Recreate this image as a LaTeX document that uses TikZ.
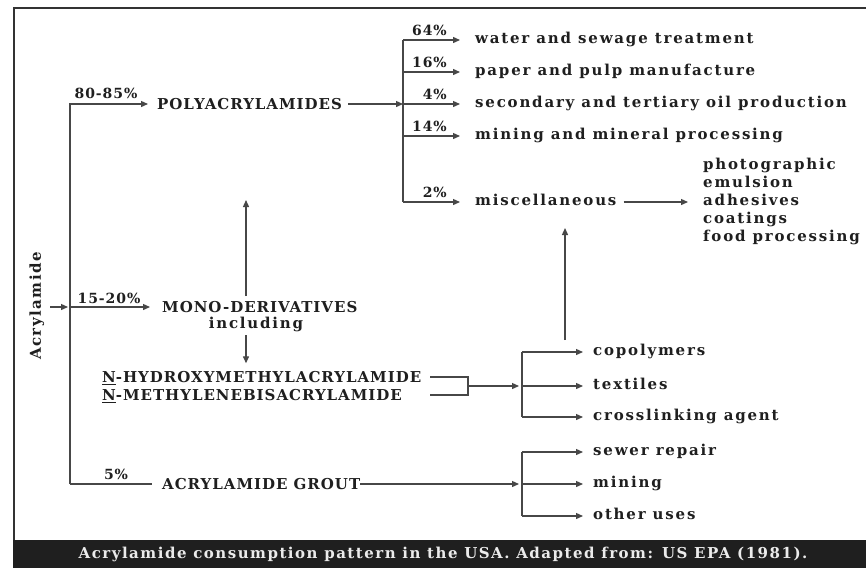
\documentclass[tikz,border=0pt]{standalone}
\usepackage{fontspec}
\newfontfamily\dserL{DejaVu Serif}[LetterSpace=12]
\newfontfamily\dserU{DejaVu Serif}[LetterSpace=6.5]
\newfontfamily\dserC{DejaVu Serif}[LetterSpace=10]
\usetikzlibrary{arrows.meta}
\begin{document}
\begin{tikzpicture}[x=1pt,y=-1pt,
  ln/.style={draw=black!72,line width=1.3pt},
  arr/.style={ln,-{Triangle[length=7pt,width=6pt]}},
  lc/.style={font=\dserL\bfseries\fontsize{15}{18}\selectfont,inner sep=0pt,anchor=west,text height=7.8pt,text depth=0pt,text=black!88},
  uc/.style={font=\dserU\bfseries\fontsize{15}{18}\selectfont,inner sep=0pt,anchor=west,text height=11pt,text depth=0pt,text=black!88},
  pct/.style={font=\dserU\bfseries\fontsize{14}{18}\selectfont,inner sep=0pt,text=black!88}]
\useasboundingbox (0,0) rectangle (866,568);
\fill[white] (0,0) rectangle (866,568);
% frame and caption bar
\draw[black!80,line width=2.5pt] (14,541) -- (14,8) -- (866,8);
\fill[black!88] (12.75,540) rectangle (866,568);
\node[pct,anchor=center,text=white!92!black,font=\dserC\bfseries\fontsize{15}{18}\selectfont] (cap) at (443,554) {Acrylamide consumption pattern in the USA. Adapted from: US EPA (1981).};
% source
\node[lc,rotate=90,anchor=center,font=\dserC\bfseries\fontsize{15}{18}\selectfont] (acr) at (37,306) {Acrylamide};
\coordinate (in) at (50,307);
\coordinate (tm) at (70,307);
\coordinate (tb) at (70,484);
% main nodes
\node[uc] (poly) at (157,104) {POLYACRYLAMIDES};
\node[uc] (mono) at (162,307) {MONO-DERIVATIVES};
\node[lc,anchor=center] (incl) at (256,325) {including};
\node[uc] (hyd) at (102,377) {\underline{N}-HYDROXYMETHYLACRYLAMIDE};
\node[uc] (met) at (102,395) {\underline{N}-METHYLENEBISACRYLAMIDE};
\node[uc] (grout) at (162,484) {ACRYLAMIDE GROUT};
% trunk
\draw[arr,shorten >=2pt] (in) -- (tm);
\draw[arr,shorten >=9pt] (tb) |- (poly.west);
\draw[arr,shorten >=12pt] (tm) -- (mono.west);
\draw[ln,shorten >=10pt] (tb) -- (grout.west);
\node[pct,anchor=base] (p1) at (106,98) {80-85\%};
\node[pct,anchor=base] (p2) at (109,303) {15-20\%};
\node[pct,anchor=base] (p3) at (116,479) {5\%};
% polyacrylamide uses
\node[lc] (u1) at (475,40) {water and sewage treatment};
\node[lc] (u2) at (475,72) {paper and pulp manufacture};
\node[lc] (u3) at (475,104) {secondary and tertiary oil production};
\node[lc] (u4) at (475,136) {mining and mineral processing};
\node[lc] (misc) at (475,202) {miscellaneous};
\coordinate (bt) at (403,40);
\coordinate (bm) at (403,104);
\coordinate (bb) at (403,202);
\draw[arr,shorten <=6pt] (poly.east) -- (bm);
\draw[ln] (bt) -- (bb);
\draw[arr,shorten >=15pt] (bt) -- (u1.west);
\draw[arr,shorten >=15pt] (u2.west -| bt) -- (u2.west);
\draw[arr,shorten >=15pt] (bm) -- (u3.west);
\draw[arr,shorten >=15pt] (u4.west -| bt) -- (u4.west);
\draw[arr,shorten >=15pt] (bb) -- (misc.west);
\node[pct,anchor=base east] (q1) at (447,35) {64\%};
\node[pct,anchor=base east] (q2) at (447,67) {16\%};
\node[pct,anchor=base east] (q3) at (447,99) {4\%};
\node[pct,anchor=base east] (q4) at (447,131) {14\%};
\node[pct,anchor=base east] (q5) at (447,197) {2\%};
% miscellaneous list
\node[lc] (m1) at (703,166) {photographic};
\node[lc] (m2) at (703,184) {emulsion};
\node[lc] (m3) at (703,202) {adhesives};
\node[lc] (m4) at (703,220) {coatings};
\node[lc] (m5) at (703,238) {food processing};
\draw[arr,shorten <=7pt,shorten >=15pt] (misc.east) -- (m3.west);
% mono-derivatives
\coordinate (up0) at (246,296);
\coordinate (up1) at (246,200);
\draw[arr] (up0) -- (up1);
\coordinate (dn0) at (246,335);
\draw[arr,shorten >=8pt] (dn0) -- (dn0 |- hyd.north);
\coordinate (b1) at (430,377);
\coordinate (b2) at (430,395);
\coordinate (k1) at (468,377);
\coordinate (k2) at (468,395);
\coordinate (kj) at (468,386);
\coordinate (c0) at (522,386);
\coordinate (ct) at (522,352);
\coordinate (cb) at (522,417);
\draw[ln] (b1) -- (k1) -- (k2) -- (b2);
\draw[arr,shorten >=3pt] (kj) -- (c0);
\draw[ln] (ct) -- (cb);
\node[lc] (copo) at (593,352) {copolymers};
\node[lc] (tex) at (593,386) {textiles};
\node[lc] (cross) at (593,417) {crosslinking agent};
\draw[arr,shorten >=10pt] (ct) -- (copo.west);
\draw[arr,shorten >=10pt] (c0) -- (tex.west);
\draw[arr,shorten >=10pt] (cb) -- (cross.west);
\coordinate (v0) at (565,340);
\coordinate (v1) at (565,228);
\draw[arr] (v0) -- (v1);
% grout
\coordinate (g0) at (522,484);
\coordinate (gt) at (522,452);
\coordinate (gb) at (522,516);
\draw[arr,shorten >=3pt] (grout.east) -- (g0);
\draw[ln] (gt) -- (gb);
\node[lc] (sew) at (593,452) {sewer repair};
\node[lc] (mini) at (593,484) {mining};
\node[lc] (oth) at (593,516) {other uses};
\draw[arr,shorten >=10pt] (gt) -- (sew.west);
\draw[arr,shorten >=10pt] (g0) -- (mini.west);
\draw[arr,shorten >=10pt] (gb) -- (oth.west);
\end{tikzpicture}
\end{document}
